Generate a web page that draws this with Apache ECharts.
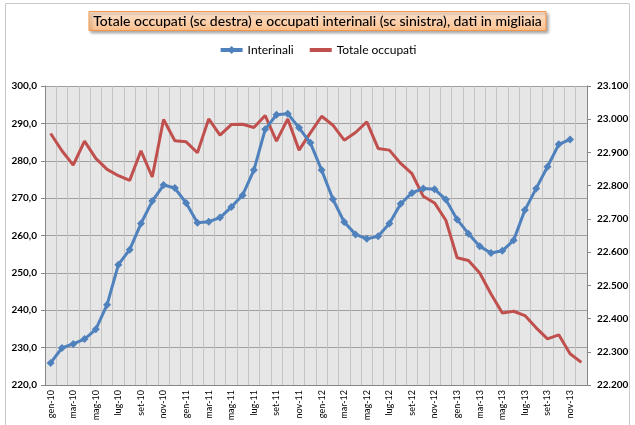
<!DOCTYPE html>
<html>
<head>
<meta charset="utf-8">
<script src="https://cdn.jsdelivr.net/npm/echarts@6/dist/echarts.min.js"></script>
<style>
  html, body { margin: 0; padding: 0; background: #fff; }
  #chart { width: 635px; height: 425px; }
</style>
</head>
<body>
<div id="chart"></div>
<script>
// mesi gen-10 .. dic-13
var mesi = ['gen', 'feb', 'mar', 'apr', 'mag', 'giu', 'lug', 'ago', 'set', 'ott', 'nov', 'dic'];
var anni = ['10', '11', '12', '13'];
var categorie = [];
anni.forEach(function (a) {
    mesi.forEach(function (m) { categorie.push(m + '-' + a); });
});

// occupati interinali, migliaia (scala sinistra)
var interinali = [225.9, 229.9, 231.0, 232.3, 234.9, 241.5, 252.2, 256.2, 263.2, 269.2, 273.5, 272.7,
                  268.7, 263.4, 263.7, 264.8, 267.6, 270.8, 277.5, 288.4, 292.3, 292.6, 288.8, 284.8,
                  277.5, 269.7, 263.6, 260.3, 259.1, 259.8, 263.2, 268.5, 271.4, 272.6, 272.4, 269.6,
                  264.3, 260.5, 257.1, 255.3, 255.9, 258.7, 266.8, 272.6, 278.4, 284.4, 285.7, null];

// totale occupati, migliaia (scala destra)
var totaleOccupati = [22957, 22905, 22862, 22934, 22882, 22849, 22830, 22816, 22905, 22826, 22999, 22935,
                      22932, 22899, 23001, 22952, 22984, 22985, 22975, 23011, 22934, 23001, 22907, 22959,
                      23009, 22982, 22937, 22960, 22992, 22912, 22907, 22867, 22836, 22768, 22748, 22696,
                      22583, 22575, 22537, 22474, 22417, 22422, 22409, 22372, 22339, 22351, 22294, 22268];

var chart = echarts.init(document.getElementById('chart'));

var font = 'Lato, "DejaVu Sans", sans-serif';

chart.setOption({
    animation: false,
    textStyle: { fontFamily: font },
    graphic: [{
        type: 'rect',
        shape: { x: 5.5, y: 3.5, width: 624, height: 440 },
        style: { fill: 'none', stroke: '#c8c8c8', lineWidth: 1 },
        silent: true
    }],
    title: {
        text: 'Totale occupati (sc destra) e occupati interinali (sc sinistra), dati in migliaia',
        left: 'center',
        top: 11,
        padding: [3, 4, 3, 4],
        backgroundColor: {
            type: 'linear', x: 0, y: 0, x2: 0, y2: 1,
            colorStops: [{ offset: 0, color: '#fde4d0' }, { offset: 1, color: '#fbbf8c' }]
        },
        borderColor: '#f79646',
        borderWidth: 1,
        shadowColor: 'rgba(0,0,0,0.35)',
        shadowBlur: 3,
        shadowOffsetX: 2,
        shadowOffsetY: 2,
        textStyle: {
            color: '#000',
            fontSize: 14,
            fontWeight: 500,
            fontFamily: font
        }
    },
    legend: {
        top: 39,
        left: 'center',
        itemWidth: 22,
        itemHeight: 10,
        itemGap: 14,
        textStyle: { color: '#000', fontSize: 12, fontFamily: font },
        data: [
            { name: 'Interinali', lineStyle: { width: 4 } },
            { name: 'Totale occupati', lineStyle: { width: 4 }, itemStyle: { color: 'transparent', borderWidth: 0 } }
        ]
    },
    grid: {
        left: 45,
        right: 48,
        top: 86,
        bottom: 40,
        show: true,
        backgroundColor: '#e6e6e6',
        borderWidth: 0
    },
    xAxis: [{
        type: 'category',
        data: categorie,
        boundaryGap: true,
        axisLine: { lineStyle: { color: '#868686' } },
        axisTick: { interval: 1, length: 4, lineStyle: { color: '#868686' } },
        axisLabel: {
            interval: 1,
            rotate: 90,
            fontSize: 9,
            color: '#000',
            margin: 5
        },
        splitLine: { show: true, interval: 0, lineStyle: { color: '#c4c4c4', width: 1 } }
    }],
    yAxis: [{
        type: 'value',
        position: 'left',
        min: 220,
        max: 300,
        interval: 10,
        axisLine: { show: true, lineStyle: { color: '#868686' } },
        axisTick: { show: true, length: 4, lineStyle: { color: '#868686' } },
        axisLabel: {
            fontSize: 10,
            fontWeight: 'bold',
            color: '#000',
            margin: 8,
            formatter: function (v) { return v.toFixed(1).replace('.', ','); }
        },
        splitLine: { show: true, lineStyle: { color: '#a0a0a0', width: 1 } }
    }, {
        type: 'value',
        position: 'right',
        min: 22200,
        max: 23100,
        interval: 100,
        axisLine: { show: true, lineStyle: { color: '#868686' } },
        axisTick: { show: true, length: 4, lineStyle: { color: '#868686' } },
        axisLabel: {
            fontSize: 10,
            fontWeight: 'bold',
            color: '#000',
            margin: 10,
            formatter: function (v) { return (v / 1000).toFixed(3); }
        },
        splitLine: { show: false }
    }],
    series: [{
        name: 'Interinali',
        type: 'line',
        yAxisIndex: 0,
        data: interinali,
        symbol: 'diamond',
        symbolSize: 8,
        showAllSymbol: true,
        lineStyle: { color: '#4f81bd', width: 3 },
        itemStyle: { color: '#4f81bd' },
        z: 3
    }, {
        name: 'Totale occupati',
        type: 'line',
        yAxisIndex: 1,
        data: totaleOccupati,
        symbol: 'none',
        lineStyle: { color: '#c0504d', width: 3 },
        itemStyle: { color: '#c0504d' },
        z: 2
    }]
});
</script>
</body>
</html>
